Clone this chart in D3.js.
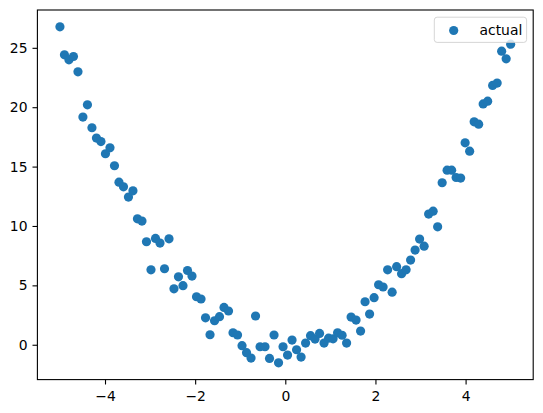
<!DOCTYPE html>
<html>
<head>
<meta charset="utf-8">
<script src="https://cdn.jsdelivr.net/npm/d3@7"></script>
<style>
  html, body { margin: 0; padding: 0; background: #fff; }
  svg { display: block; }
  text { font-family: "DejaVu Sans", sans-serif; }
</style>
</head>
<body>
<svg id="chart" width="543" height="413"></svg>
<script>
// ---- data ----
const xValues = [
  -5.00, -4.90, -4.80, -4.70, -4.60, -4.49, -4.39, -4.29, -4.19, -4.09,
  -3.99, -3.89, -3.79, -3.69, -3.59, -3.48, -3.38, -3.28, -3.18, -3.08,
  -2.98, -2.88, -2.78, -2.68, -2.58, -2.47, -2.37, -2.27, -2.17, -2.07,
  -1.97, -1.87, -1.77, -1.67, -1.57, -1.46, -1.36, -1.26, -1.16, -1.06,
  -0.96, -0.86, -0.76, -0.66, -0.56, -0.45, -0.35, -0.25, -0.15, -0.05,
   0.05,  0.15,  0.25,  0.35,  0.45,  0.56,  0.66,  0.76,  0.86,  0.96,
   1.06,  1.16,  1.26,  1.36,  1.46,  1.57,  1.67,  1.77,  1.87,  1.97,
   2.07,  2.17,  2.27,  2.37,  2.47,  2.58,  2.68,  2.78,  2.88,  2.98,
   3.08,  3.18,  3.28,  3.38,  3.48,  3.59,  3.69,  3.79,  3.89,  3.99,
   4.09,  4.19,  4.29,  4.39,  4.49,  4.60,  4.70,  4.80,  4.90,  5.00
];
const actualValues = [
  26.77, 24.41, 23.99, 24.27, 22.98, 19.17, 20.20, 18.27, 17.40, 17.11,
  16.08, 16.58, 15.07, 13.69, 13.30, 12.43, 12.96, 10.60, 10.41,  8.67,
   6.31,  8.95,  8.56,  6.40,  8.92,  4.71,  5.72,  4.97,  6.25,  5.78,
   4.04,  3.85,  2.27,  0.84,  2.02,  2.36,  3.14,  2.84,  1.01,  0.82,
  -0.08, -0.67, -1.12,  2.42, -0.17, -0.17, -1.15,  0.82, -1.52, -0.17,
  -0.87,  0.39, -0.42, -1.04,  0.14,  0.76,  0.48,  0.95,  0.14,  0.55,
   0.50,  1.00,  0.80,  0.14,  2.33,  2.08,  1.15,  3.62,  2.58,  3.96,
   5.05,  4.86,  6.31,  4.43,  6.57,  5.98,  6.31,  7.13,  7.97,  8.90,
   8.30, 11.00, 11.25,  9.93, 13.64, 14.70, 14.70, 14.08, 14.03, 17.00,
  16.30, 18.77, 18.57, 20.28, 20.51, 21.83, 22.03, 24.72, 24.07, 25.31
];
const xTicks = [-4, -2, 0, 2, 4];
const yTicks = [0, 5, 10, 15, 20, 25];
const seriesName = "actual";

// ---- layout ----
const plotLeft = 37.4, plotTop = 10, plotW = 495.8, plotH = 369.6;
const color = "#1f77b4";
const pointR = 4.6;

const svg = d3.select("#chart");

function padded(ext) {
  const d = (ext[1] - ext[0]) * 0.05;
  return [ext[0] - d, ext[1] + d];
}

const x = d3.scaleLinear().domain(padded(d3.extent(xValues))).range([plotLeft, plotLeft + plotW]);
const y = d3.scaleLinear().domain(padded(d3.extent(actualValues))).range([plotTop + plotH, plotTop]);

const data = xValues.map((v, i) => ({ x: v, y: actualValues[i] }));

// points
svg.append("g")
  .selectAll("circle")
  .data(data)
  .join("circle")
  .attr("cx", d => x(d.x))
  .attr("cy", d => y(d.y))
  .attr("r", pointR)
  .attr("fill", color);

// axes
const fmt = d => d3.format("d")(d);
const xAxis = svg.append("g")
  .attr("transform", `translate(0,${plotTop + plotH})`)
  .call(d3.axisBottom(x).tickValues(xTicks).tickSize(4.9).tickPadding(6.2).tickFormat(fmt));
const yAxis = svg.append("g")
  .attr("transform", `translate(${plotLeft},0)`)
  .call(d3.axisLeft(y).tickValues(yTicks).tickSize(4.9).tickPadding(5).tickFormat(fmt));

[xAxis, yAxis].forEach(g => {
  g.select(".domain").remove();
  g.selectAll(".tick line").attr("stroke", "#000").attr("stroke-width", 1.1);
  g.selectAll(".tick text")
    .attr("fill", "#000")
    .style("font-family", "'DejaVu Sans', sans-serif")
    .style("font-size", "13.9px");
});

// frame
svg.append("rect")
  .attr("x", plotLeft).attr("y", plotTop)
  .attr("width", plotW).attr("height", plotH)
  .attr("fill", "none")
  .attr("stroke", "#000")
  .attr("stroke-width", 1.1);

// legend
const lg = svg.append("g");
lg.append("rect")
  .attr("x", 434.3).attr("y", 17.2)
  .attr("width", 92.3).attr("height", 25.2)
  .attr("rx", 2.8)
  .attr("fill", "#fff").attr("fill-opacity", 0.8)
  .attr("stroke", "#cccccc").attr("stroke-opacity", 0.8)
  .attr("stroke-width", 1);
lg.append("circle")
  .attr("cx", 453.7).attr("cy", 30.5)
  .attr("r", pointR)
  .attr("fill", color);
lg.append("text")
  .attr("x", 479.5).attr("y", 35.3)
  .style("font-size", "13.9px")
  .attr("fill", "#000")
  .text(seriesName);
</script>
</body>
</html>
